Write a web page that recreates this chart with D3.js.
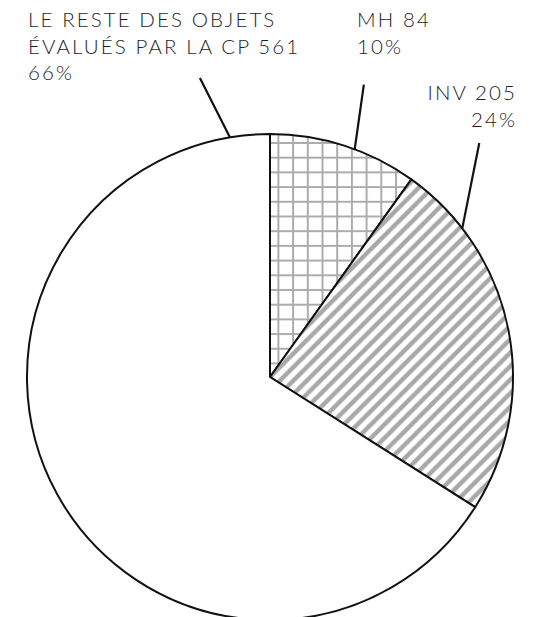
<!DOCTYPE html>
<html>
<head>
<meta charset="utf-8">
<script src="https://cdn.jsdelivr.net/npm/d3@7"></script>
<style>
  html, body { margin: 0; padding: 0; background: #fff; }
  text { font-family: Lato, "Open Sans", sans-serif; font-weight: 300; fill: #1e1e1e; }
</style>
</head>
<body>
<svg id="chart" width="538" height="617"></svg>
<script>
// ---- data ----
const categories = ["MH", "INV", "LE RESTE DES OBJETS ÉVALUÉS PAR LA CP"];
const values = [84, 205, 561];
const percents = ["10%", "24%", "66%"];
const labelLines = [
  ["MH 84", "10%"],
  ["INV 205", "24%"],
  ["LE RESTE DES OBJETS", "ÉVALUÉS PAR LA CP 561", "66%"]
];
const fills = ["url(#grid)", "url(#stripes)", "#ffffff"];

// ---- layout ----
const cx = 270, cy = 377, R = 243;
const svg = d3.select("#chart");
const defs = svg.append("defs");

const gs = 14.7;
const grid = defs.append("pattern").attr("id", "grid")
  .attr("patternUnits", "userSpaceOnUse").attr("width", gs).attr("height", gs)
  .attr("x", 272).attr("y", 206);
grid.append("rect").attr("width", gs).attr("height", gs).attr("fill", "#fff");
grid.append("path").attr("d", `M1,0V${gs}M0,1H${gs}`)
  .attr("stroke", "#acacac").attr("stroke-width", 2).attr("fill", "none");

const st = 13.5;
const stripes = defs.append("pattern").attr("id", "stripes")
  .attr("patternUnits", "userSpaceOnUse").attr("width", st).attr("height", st);
stripes.append("rect").attr("width", st).attr("height", st).attr("fill", "#fff");
stripes.append("path")
  .attr("d", `M0,${st}L${st},0M${-st},${st}L${st},${-st}M0,${2*st}L${2*st},0`)
  .attr("stroke", "#a8a8a8").attr("stroke-width", 4.4).attr("fill", "none");

const g = svg.append("g").attr("transform", `translate(${cx},${cy})`);

const pie = d3.pie().sort(null).value(d => d);
const arcs = pie(values);
const arc = d3.arc().innerRadius(0).outerRadius(R);

// leader lines: [outer angle deg, outer radius, inner angle deg, inner radius]
const leaders = [[17.8, 307, 20.4, 243], [41.8, 314, 52.3, 243], [-13.2, 307, -9.5, 243]];

const polar = (deg, r) => {
  const a = deg * Math.PI / 180;
  return [r * Math.sin(a), -r * Math.cos(a)];
};
g.selectAll("line.leader").data(leaders).join("line")
  .attr("class", "leader")
  .attr("x1", d => polar(d[0], d[1])[0])
  .attr("y1", d => polar(d[0], d[1])[1])
  .attr("x2", d => polar(d[2], d[3])[0])
  .attr("y2", d => polar(d[2], d[3])[1])
  .attr("stroke", "#111").attr("stroke-width", 2.2);

g.selectAll("path.slice").data(arcs).join("path")
  .attr("class", "slice")
  .attr("d", arc)
  .attr("fill", (d, i) => fills[i])
  .attr("stroke", "#111")
  .attr("stroke-width", 2)
  .attr("stroke-linejoin", "round");

// labels
const labelPos = [
  { x: 357, y: 27, anchor: "start" },
  { x: 517, y: 100, anchor: "end" },
  { x: 28, y: 27, anchor: "start" }
];
const lineH = 26.5;
labelLines.forEach((lines, i) => {
  const p = labelPos[i];
  const t = svg.append("text")
    .attr("x", p.x).attr("y", p.y)
    .attr("text-anchor", p.anchor)
    .attr("font-size", 20.5)
    .attr("letter-spacing", 2.1);
  lines.forEach((ln, j) => {
    t.append("tspan").attr("x", p.x).attr("y", p.y + j * lineH).text(ln);
  });
});
</script>
</body>
</html>
